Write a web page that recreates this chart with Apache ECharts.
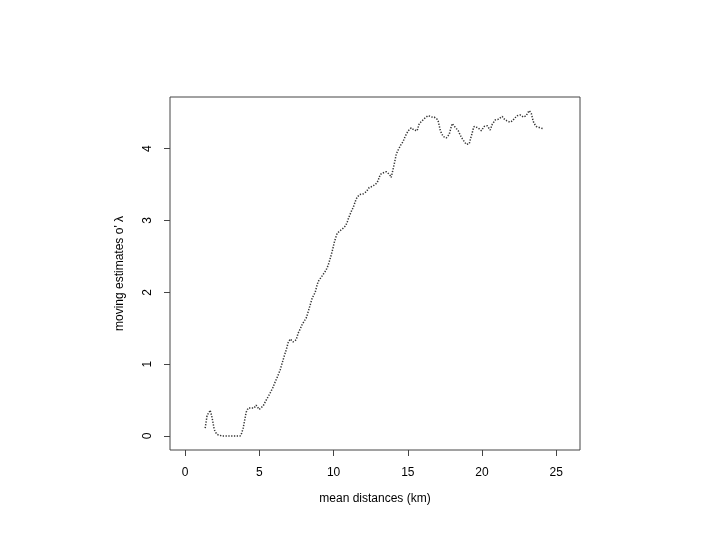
<!DOCTYPE html>
<html>
<head>
<meta charset="utf-8">
<script src="https://cdn.jsdelivr.net/npm/echarts@6/dist/echarts.min.js"></script>
<style>
  html, body { margin: 0; padding: 0; background: #fff; }
  #chart { width: 720px; height: 540px; }
</style>
</head>
<body>
<div id="chart"></div>
<script>
// mean distance (km) of each moving window
var distKm = [
  1.35, 1.48, 1.55, 1.62, 1.68, 1.75, 1.82, 1.89, 1.95, 2.02, 2.09, 2.16, 2.22,
  2.5, 3.0, 3.4, 3.71, 3.81, 3.91, 4.01, 4.11, 4.25, 4.45, 4.65, 4.78, 4.99,
  5.12, 5.26, 5.46, 5.6, 5.73, 5.9, 6.06, 6.23, 6.40, 6.50, 6.60, 6.70, 6.81,
  6.94, 7.08, 7.28, 7.48, 7.61, 7.75, 7.88, 8.02, 8.15, 8.26, 8.36, 8.46, 8.56,
  8.66, 8.76, 8.86, 8.96, 9.06, 9.16, 9.30, 9.43, 9.54, 9.64, 9.74, 9.84, 9.94,
  10.04, 10.14, 10.24, 10.34, 10.44, 10.58, 10.71, 10.82, 10.92, 11.02, 11.12,
  11.22, 11.32, 11.42, 11.52, 11.62, 11.73, 11.86, 11.99, 12.10, 12.20, 12.30,
  12.40, 12.54, 12.67, 12.80, 12.94, 13.04, 13.14, 13.28, 13.41, 13.55, 13.68,
  13.78, 13.88, 13.98, 14.08, 14.15, 14.22, 14.32, 14.42, 14.52, 14.62, 14.72,
  14.82, 14.92, 15.03, 15.13, 15.23, 15.33, 15.43, 15.53, 15.63, 15.70, 15.77,
  15.87, 15.97, 16.07, 16.17, 16.27, 16.37, 16.50, 16.64, 16.78, 16.91, 16.98,
  17.05, 17.12, 17.18, 17.28, 17.39, 17.49, 17.59, 17.69, 17.79, 17.89, 17.99,
  18.09, 18.19, 18.30, 18.40, 18.53, 18.67, 18.80, 18.94, 19.04, 19.14, 19.24,
  19.34, 19.40, 19.47, 19.60, 19.74, 19.85, 19.95, 20.05, 20.15, 20.25, 20.35,
  20.45, 20.55, 20.62, 20.69, 20.79, 20.89, 20.99, 21.09, 21.22, 21.36, 21.46,
  21.56, 21.66, 21.77, 21.87, 21.97, 22.07, 22.17, 22.27, 22.37, 22.47, 22.57,
  22.68, 22.78, 22.88, 22.98, 23.08, 23.18, 23.25, 23.32, 23.38, 23.45, 23.55,
  23.65, 23.78, 23.92, 24.02, 24.12
];
// moving estimate of lambda for each window
var lambdaEst = [
  0.11, 0.29, 0.31, 0.33, 0.36, 0.31, 0.25, 0.17, 0.10, 0.06, 0.04, 0.02, 0.00,
  0.00, 0.00, 0.00, 0.00, 0.04, 0.11, 0.22, 0.33, 0.39, 0.39, 0.39, 0.43, 0.37,
  0.36, 0.42, 0.50, 0.55, 0.60, 0.67, 0.75, 0.83, 0.92, 0.99, 1.06, 1.13, 1.20,
  1.30, 1.35, 1.31, 1.34, 1.43, 1.49, 1.55, 1.60, 1.64, 1.71, 1.78, 1.85, 1.92,
  1.96, 2.00, 2.08, 2.15, 2.18, 2.20, 2.25, 2.29, 2.33, 2.38, 2.45, 2.52, 2.60,
  2.69, 2.76, 2.82, 2.84, 2.86, 2.88, 2.89, 2.93, 2.98, 3.04, 3.09, 3.14, 3.18,
  3.24, 3.30, 3.33, 3.36, 3.37, 3.37, 3.38, 3.40, 3.43, 3.46, 3.47, 3.47, 3.50,
  3.53, 3.58, 3.64, 3.66, 3.68, 3.68, 3.67, 3.64, 3.60, 3.69, 3.78, 3.85, 3.92,
  3.97, 4.01, 4.05, 4.08, 4.12, 4.17, 4.21, 4.25, 4.27, 4.29, 4.28, 4.26, 4.25,
  4.25, 4.30, 4.35, 4.37, 4.39, 4.41, 4.43, 4.45, 4.46, 4.45, 4.44, 4.44, 4.43,
  4.41, 4.38, 4.32, 4.26, 4.21, 4.17, 4.16, 4.15, 4.17, 4.20, 4.28, 4.35, 4.33,
  4.30, 4.28, 4.25, 4.19, 4.14, 4.10, 4.06, 4.06, 4.07, 4.15, 4.22, 4.27, 4.31,
  4.30, 4.29, 4.27, 4.25, 4.28, 4.31, 4.32, 4.32, 4.29, 4.26, 4.30, 4.34, 4.37,
  4.40, 4.41, 4.41, 4.43, 4.45, 4.42, 4.40, 4.39, 4.39, 4.37, 4.36, 4.39, 4.42,
  4.44, 4.46, 4.47, 4.47, 4.45, 4.44, 4.45, 4.46, 4.50, 4.53, 4.51, 4.49, 4.44,
  4.38, 4.34, 4.31, 4.30, 4.29, 4.28, 4.28
];
var xTicks = [0, 5, 10, 15, 20, 25];
var yTicks = [0, 1, 2, 3, 4];

var points = distKm.map(function (d, i) { return [d, lambdaEst[i]]; });

var chart = echarts.init(document.getElementById("chart"));
var font = "Liberation Sans, Arial, Helvetica, sans-serif";

chart.setOption({
  animation: false,
  backgroundColor: "#fff",
  grid: {
    left: 170,
    right: 140,
    top: 97,
    bottom: 90,
    show: true,
    borderColor: "#444",
    borderWidth: 1,
  },
  xAxis: {
    type: "value",
    min: -1.02,
    max: 26.6,
    name: "mean distances (km)",
    nameLocation: "middle",
    nameGap: 43,
    nameTextStyle: { color: "#000", fontSize: 12, fontFamily: font },
    axisLine: { show: false, onZero: false },
    axisTick: { show: true, customValues: xTicks, length: 6, lineStyle: { color: "#444" } },
    axisLabel: { customValues: xTicks, margin: 17, color: "#000", fontSize: 12, fontFamily: font },
    splitLine: { show: false },
  },
  yAxis: {
    type: "value",
    min: -0.195,
    max: 4.72,
    name: "moving estimates o' λ",
    nameLocation: "middle",
    nameGap: 44,
    nameRotate: 90,
    nameTextStyle: { color: "#000", fontSize: 12, fontFamily: font },
    axisLine: { show: false, onZero: false },
    axisTick: { show: true, customValues: yTicks, length: 6, lineStyle: { color: "#444" } },
    axisLabel: { customValues: yTicks, rotate: 90, margin: 16, color: "#000", fontSize: 12, fontFamily: font },
    splitLine: { show: false },
  },
  series: [
    {
      type: "line",
      data: points,
      showSymbol: false,
      lineStyle: { color: "#333", width: 1.5, type: [1.3, 1.5] },
    },
  ],
});
</script>
</body>
</html>
